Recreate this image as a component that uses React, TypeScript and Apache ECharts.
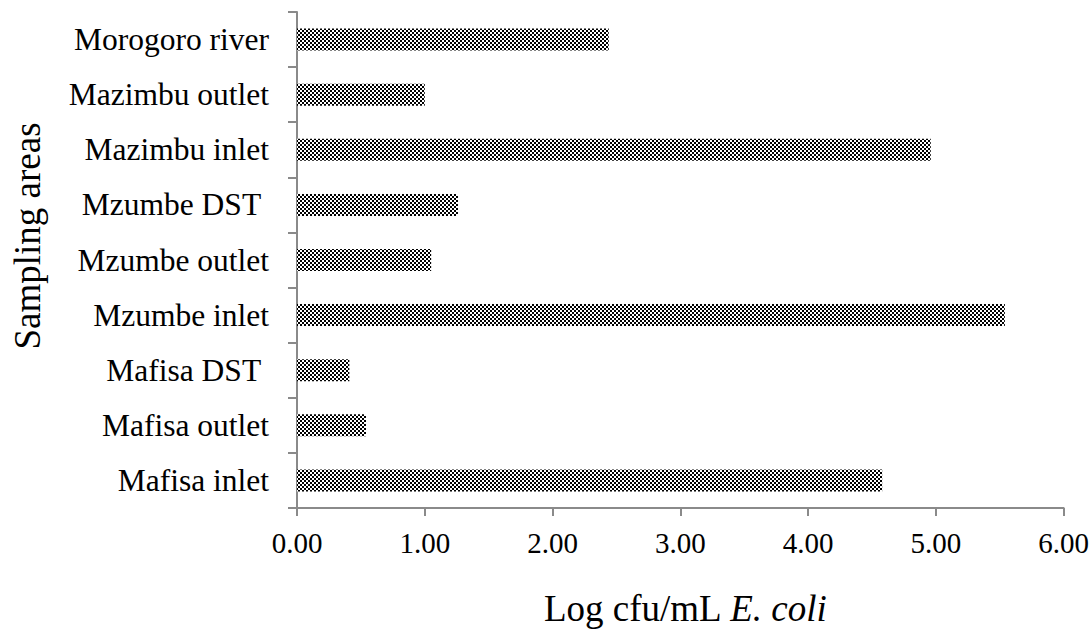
import React, { useEffect, useRef } from "react";
import * as echarts from "echarts";

const categories = [
  "Mafisa inlet",
  "Mafisa outlet",
  "Mafisa DST ",
  "Mzumbe inlet",
  "Mzumbe outlet",
  "Mzumbe DST ",
  "Mazimbu inlet",
  "Mazimbu outlet",
  "Morogoro river",
];
const values = [4.58, 0.54, 0.41, 5.54, 1.05, 1.26, 4.96, 1.0, 2.44];
const xTicks = { min: 0, max: 6, interval: 1 };
const xTitle = "Log cfu/mL ";
const xTitleItalic = "E. coli";
const yTitle = "Sampling areas";

function makeChecker(): HTMLCanvasElement {
  const c = document.createElement("canvas");
  c.width = 4;
  c.height = 4;
  const ctx = c.getContext("2d")!;
  ctx.fillStyle = "#ffffff";
  ctx.fillRect(0, 0, 4, 4);
  ctx.fillStyle = "#000000";
  ctx.fillRect(0, 0, 2, 2);
  ctx.fillRect(2, 2, 2, 2);
  return c;
}

export default function App() {
  const ref = useRef<HTMLDivElement>(null);
  useEffect(() => {
    document.body.style.margin = "0";
    const chart = echarts.init(ref.current!, null, { renderer: "svg" });
    const axisColor = "#8a8a8a";
    const font = "'Liberation Serif', 'Times New Roman', serif";
    chart.setOption({
      animation: false,
      backgroundColor: "#ffffff",
      grid: { left: 297, right: 26, top: 12, bottom: 122, containLabel: false },
      xAxis: {
        type: "value",
        min: xTicks.min,
        max: xTicks.max,
        interval: xTicks.interval,
        axisLine: { show: true, lineStyle: { color: axisColor, width: 2 } },
        axisTick: { show: true, length: 8, lineStyle: { color: axisColor, width: 2 } },
        splitLine: { show: false },
        axisLabel: {
          color: "#000",
          fontFamily: font,
          fontSize: 29,
          margin: 20,
          formatter: (v: number) => v.toFixed(2),
        },
      },
      yAxis: {
        type: "category",
        data: categories,
        axisLine: { show: true, lineStyle: { color: axisColor, width: 2 } },
        axisTick: { show: true, length: 9, lineStyle: { color: axisColor, width: 2 } },
        axisLabel: {
          color: "#000",
          fontFamily: font,
          fontSize: 31.5,
          margin: 28,
          formatter: (v: string) => v.replace(/ $/, "\u00A0"),
        },
      },
      series: [
        {
          type: "bar",
          data: values,
          barWidth: 22,
          itemStyle: {
            color: { image: makeChecker(), repeat: "repeat" },
          },
        },
      ],
      graphic: [
        {
          type: "text",
          x: 685,
          y: 608,
          style: {
            text: xTitle + "{i|" + xTitleItalic + "}",
            font: "37px " + font,
            fill: "#000",
            textAlign: "center",
            textVerticalAlign: "middle",
            rich: { i: { fontStyle: "italic", fontSize: 37, fontFamily: font } },
          },
        },
        {
          type: "text",
          x: 27,
          y: 236,
          rotation: Math.PI / 2,
          style: {
            text: yTitle,
            font: "37px " + font,
            fill: "#000",
            textAlign: "center",
            textVerticalAlign: "middle",
          },
        },
      ],
    });
    return () => chart.dispose();
  }, []);
  return <div ref={ref} style={{ width: 1092, height: 630 }} />;
}
